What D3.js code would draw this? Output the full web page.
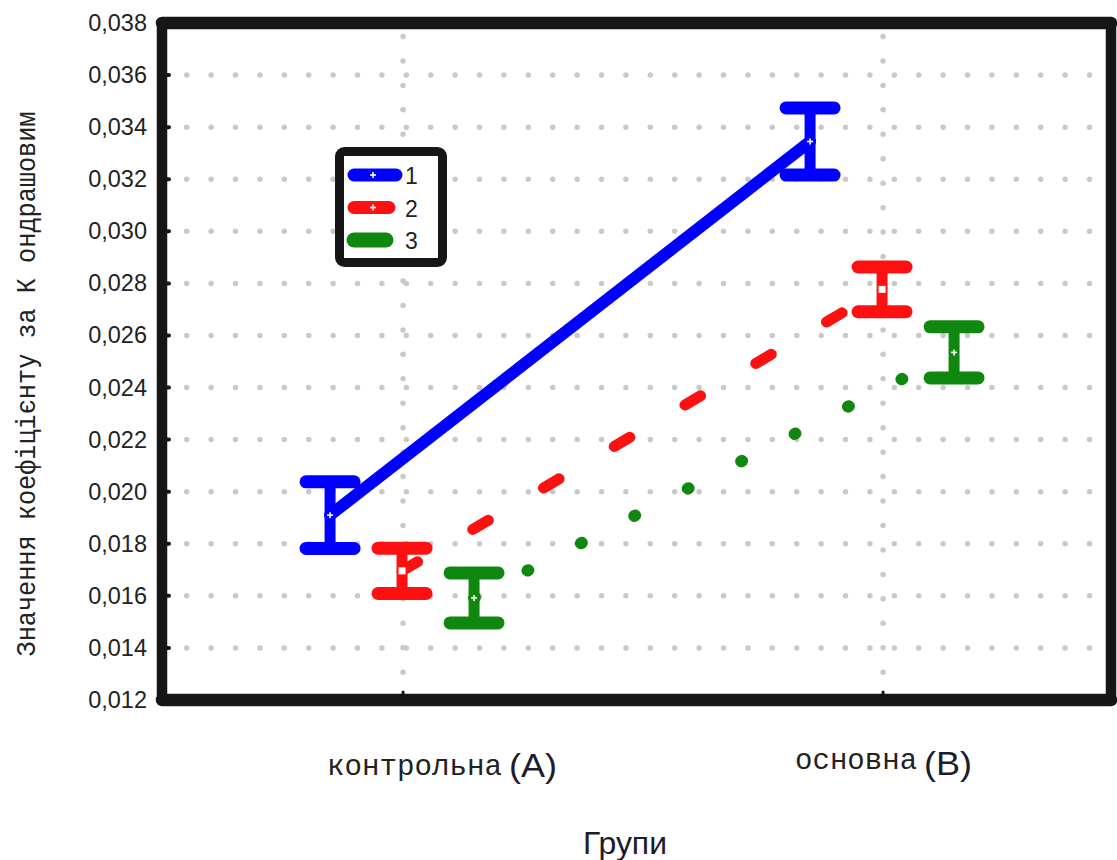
<!DOCTYPE html>
<html>
<head>
<meta charset="utf-8">
<script src="https://cdn.jsdelivr.net/npm/d3@7"></script>
<style>
  html, body { margin: 0; padding: 0; background: #fff; }
  svg { display: block; }
</style>
</head>
<body>
<svg id="chart" width="1117" height="860"></svg>
<script>
// Groups on the x axis (name + letter tag drawn in a second font)
const groups = ["контрольна", "основна"];
const groupTags = ["(А)", "(В)"];

// Series (legend entries)
const seriesNames = ["1", "2", "3"];
const seriesColors = ["#0000ff", "#ff1010", "#108810"];

// Means per group, one array per series
const means1 = [0.01910, 0.03345];
const means2 = [0.01696, 0.02777];
const means3 = [0.01592, 0.02535];

// Half-widths of the error bars
const errs1 = [0.00128, 0.00129];
const errs2 = [0.00087, 0.00086];
const errs3 = [0.00096, 0.00098];

// Y axis ticks
const yTicks = [0.012, 0.014, 0.016, 0.018, 0.020, 0.022, 0.024, 0.026, 0.028, 0.030, 0.032, 0.034, 0.036, 0.038];

const yTitle = "Значення коефіцієнту за К ондрашовим";
const xTitle = "Групи";

const series = seriesNames.map((name, i) => ({
  name,
  color: seriesColors[i],
  means: [means1, means2, means3][i],
  errs: [errs1, errs2, errs3][i]
}));

const svg = d3.select("#chart");
const frame = { left: 162, top: 23, right: 1111, bottom: 700 };

const y = d3.scaleLinear().domain([0.012, 0.038]).range([frame.bottom, frame.top]);
const x = d3.scalePoint().domain(groups).range([frame.left, frame.right]).padding(0.4885).align(0.514);
const dodge = d3.scalePoint().domain(seriesNames).range([-73, 71]);

const locale = d3.formatLocale({ decimal: ",", thousands: " ", grouping: [3], currency: ["", ""] });
const fmt = locale.format(".3f");

// ---- dotted grid ----
const grid = svg.append("g").attr("stroke", "#c9c9c9").attr("stroke-linecap", "round")
  .attr("stroke-width", 5.5).attr("fill", "none");
grid.selectAll("line.h")
  .data(yTicks.filter(t => t > 0.0121 && t < 0.0379))
  .join("line")
  .attr("class", "h")
  .attr("x1", 186.7).attr("x2", 1104)
  .attr("y1", d => y(d)).attr("y2", d => y(d))
  .attr("stroke-dasharray", "0,24.4");
grid.selectAll("line.v")
  .data(groups)
  .join("line")
  .attr("class", "v")
  .attr("x1", d => x(d)).attr("x2", d => x(d))
  .attr("y1", 36.5).attr("y2", 692)
  .attr("stroke-dasharray", "0,24.45");

// ---- connecting lines ----
const line = d3.line()
  .x(d => d.x)
  .y(d => d.y);

const pts = s => groups.map((g, j) => ({ x: x(g) + dodge(s.name), y: y(s.means[j]) }));
const lineStyles = [
  { width: 12, dash: null, cap: "round" },
  { width: 11, dash: "18,64", cap: "round" },
  { width: 12, dash: "1,59", cap: "round" }
];

svg.append("g").selectAll("path")
  .data(series)
  .join("path")
  .attr("d", s => line(pts(s)))
  .attr("fill", "none")
  .attr("stroke", s => s.color)
  .attr("stroke-width", (s, i) => lineStyles[i].width)
  .attr("stroke-linecap", (s, i) => lineStyles[i].cap)
  .attr("stroke-dasharray", (s, i) => lineStyles[i].dash);

// ---- error bars ----
const bars = [];
series.forEach((s, i) => groups.forEach((g, j) => {
  bars.push({ s, i, cx: x(g) + dodge(s.name), m: s.means[j], e: s.errs[j] });
}));

const eb = svg.append("g");
eb.selectAll("line.stem").data(bars).join("line")
  .attr("class", "stem")
  .attr("x1", d => d.cx).attr("x2", d => d.cx)
  .attr("y1", d => y(d.m + d.e)).attr("y2", d => y(d.m - d.e))
  .attr("stroke", d => d.s.color).attr("stroke-width", 11);
eb.selectAll("line.capT").data(bars).join("line")
  .attr("class", "capT")
  .attr("x1", d => d.cx - 24).attr("x2", d => d.cx + 24)
  .attr("y1", d => y(d.m + d.e)).attr("y2", d => y(d.m + d.e))
  .attr("stroke", d => d.s.color).attr("stroke-width", 13).attr("stroke-linecap", "round");
eb.selectAll("line.capB").data(bars).join("line")
  .attr("class", "capB")
  .attr("x1", d => d.cx - 24).attr("x2", d => d.cx + 24)
  .attr("y1", d => y(d.m - d.e)).attr("y2", d => y(d.m - d.e))
  .attr("stroke", d => d.s.color).attr("stroke-width", 13).attr("stroke-linecap", "round");

// centre markers: small white cross, or white square for series 2
function drawMarker(g, cx, cy, kind) {
  if (kind === 1) {
    g.append("rect").attr("x", cx - 3.5).attr("y", cy - 3.5).attr("width", 7).attr("height", 7).attr("fill", "#fff");
  } else {
    g.append("line").attr("x1", cx - 3).attr("x2", cx + 3).attr("y1", cy).attr("y2", cy)
      .attr("stroke", "#fff").attr("stroke-width", 1.6);
    g.append("line").attr("x1", cx).attr("x2", cx).attr("y1", cy - 3).attr("y2", cy + 3)
      .attr("stroke", "#fff").attr("stroke-width", 1.6);
  }
}
const mk = svg.append("g");
bars.forEach(d => drawMarker(mk, d.cx, y(d.m), d.i));

// ---- frame ----
const fr = svg.append("g").attr("stroke", "#161616").attr("stroke-linecap", "round");
fr.append("line").attr("x1", frame.left).attr("x2", frame.right).attr("y1", frame.top).attr("y2", frame.top).attr("stroke-width", 12.5);
fr.append("line").attr("x1", frame.left).attr("x2", frame.right).attr("y1", frame.bottom).attr("y2", frame.bottom).attr("stroke-width", 12.5);
fr.append("line").attr("x1", frame.left).attr("x2", frame.left).attr("y1", frame.top).attr("y2", frame.bottom).attr("stroke-width", 10.5);
fr.append("line").attr("x1", frame.right).attr("x2", frame.right).attr("y1", frame.top).attr("y2", frame.bottom).attr("stroke-width", 10.5);

// small inner tick nubs
fr.selectAll("line.yt").data(yTicks.slice(1, -1)).join("line")
  .attr("class", "yt")
  .attr("x1", frame.left).attr("x2", frame.left + 7)
  .attr("y1", d => y(d)).attr("y2", d => y(d)).attr("stroke-width", 4);
fr.selectAll("line.xt").data(groups).join("line")
  .attr("class", "xt")
  .attr("x1", d => x(d)).attr("x2", d => x(d))
  .attr("y1", frame.bottom).attr("y2", frame.bottom - 8).attr("stroke-width", 3);

// ---- y axis labels ----
const yAxis = d3.axisLeft(y).tickValues(yTicks).tickFormat(fmt).tickSize(0).tickPadding(15);
const ya = svg.append("g").attr("transform", `translate(${frame.left},0)`).call(yAxis);
ya.select(".domain").remove();
ya.selectAll("text")
  .attr("font-family", "'Liberation Sans', Arial, sans-serif")
  .attr("font-size", 23.5)
  .attr("fill", "#222");

// ---- x axis labels ----
const monoFont = "'Liberation Mono', 'Courier New', monospace";
const sansFont = "'Liberation Sans', Arial, sans-serif";
const xl = svg.append("g");
const labelLayout = [
  { dx: -76, base: 775, len: 175, tagDx: 106, tagBase: 777 },
  { dx: -88, base: 769, len: 122, tagDx: 41, tagBase: 775 }
];
groups.forEach((g, j) => {
  const L = labelLayout[j];
  const x0 = x(g) + L.dx;
  xl.append("text")
    .attr("x", x0).attr("y", L.base)
    .attr("font-family", monoFont).attr("font-size", 29)
    .attr("textLength", L.len).attr("lengthAdjust", "spacingAndGlyphs")
    .attr("fill", "#222")
    .text(g);
  xl.append("text")
    .attr("x", x(g) + L.tagDx).attr("y", L.tagBase)
    .attr("font-family", sansFont).attr("font-size", 34)
    .attr("textLength", 48).attr("lengthAdjust", "spacingAndGlyphs")
    .attr("fill", "#1c1c2c")
    .text(groupTags[j]);
});

// axis titles
svg.append("text")
  .attr("x", 625).attr("y", 854)
  .attr("text-anchor", "middle")
  .attr("font-family", sansFont).attr("font-size", 31)
  .attr("textLength", 84).attr("lengthAdjust", "spacingAndGlyphs")
  .attr("fill", "#1c1c2c")
  .text(xTitle);

svg.append("text")
  .attr("transform", "translate(35,384) rotate(-90)")
  .attr("text-anchor", "middle")
  .attr("font-family", monoFont).attr("font-size", 27)
  .attr("textLength", 545).attr("lengthAdjust", "spacingAndGlyphs")
  .attr("fill", "#222")
  .text(yTitle);

// ---- legend ----
const lg = svg.append("g");
lg.append("rect")
  .attr("x", 339.5).attr("y", 151.5).attr("width", 103).attr("height", 111).attr("rx", 5)
  .attr("fill", "#fff").attr("stroke", "#161616").attr("stroke-width", 9);
const swatchLen = [42, 35, 32];
const swatchW = [13, 13, 15];
series.forEach((s, i) => {
  const cy = 175 + i * 32.5;
  lg.append("line")
    .attr("x1", 354).attr("x2", 354 + swatchLen[i])
    .attr("y1", cy).attr("y2", cy)
    .attr("stroke", s.color).attr("stroke-width", swatchW[i]).attr("stroke-linecap", "round");
  if (i < 2) drawMarker(lg, 373, cy, i === 1 ? 2 : 0);
  lg.append("text")
    .attr("x", 405).attr("y", cy + 9)
    .attr("font-family", sansFont).attr("font-size", 23)
    .attr("fill", "#222")
    .text(s.name);
});
</script>
</body>
</html>
